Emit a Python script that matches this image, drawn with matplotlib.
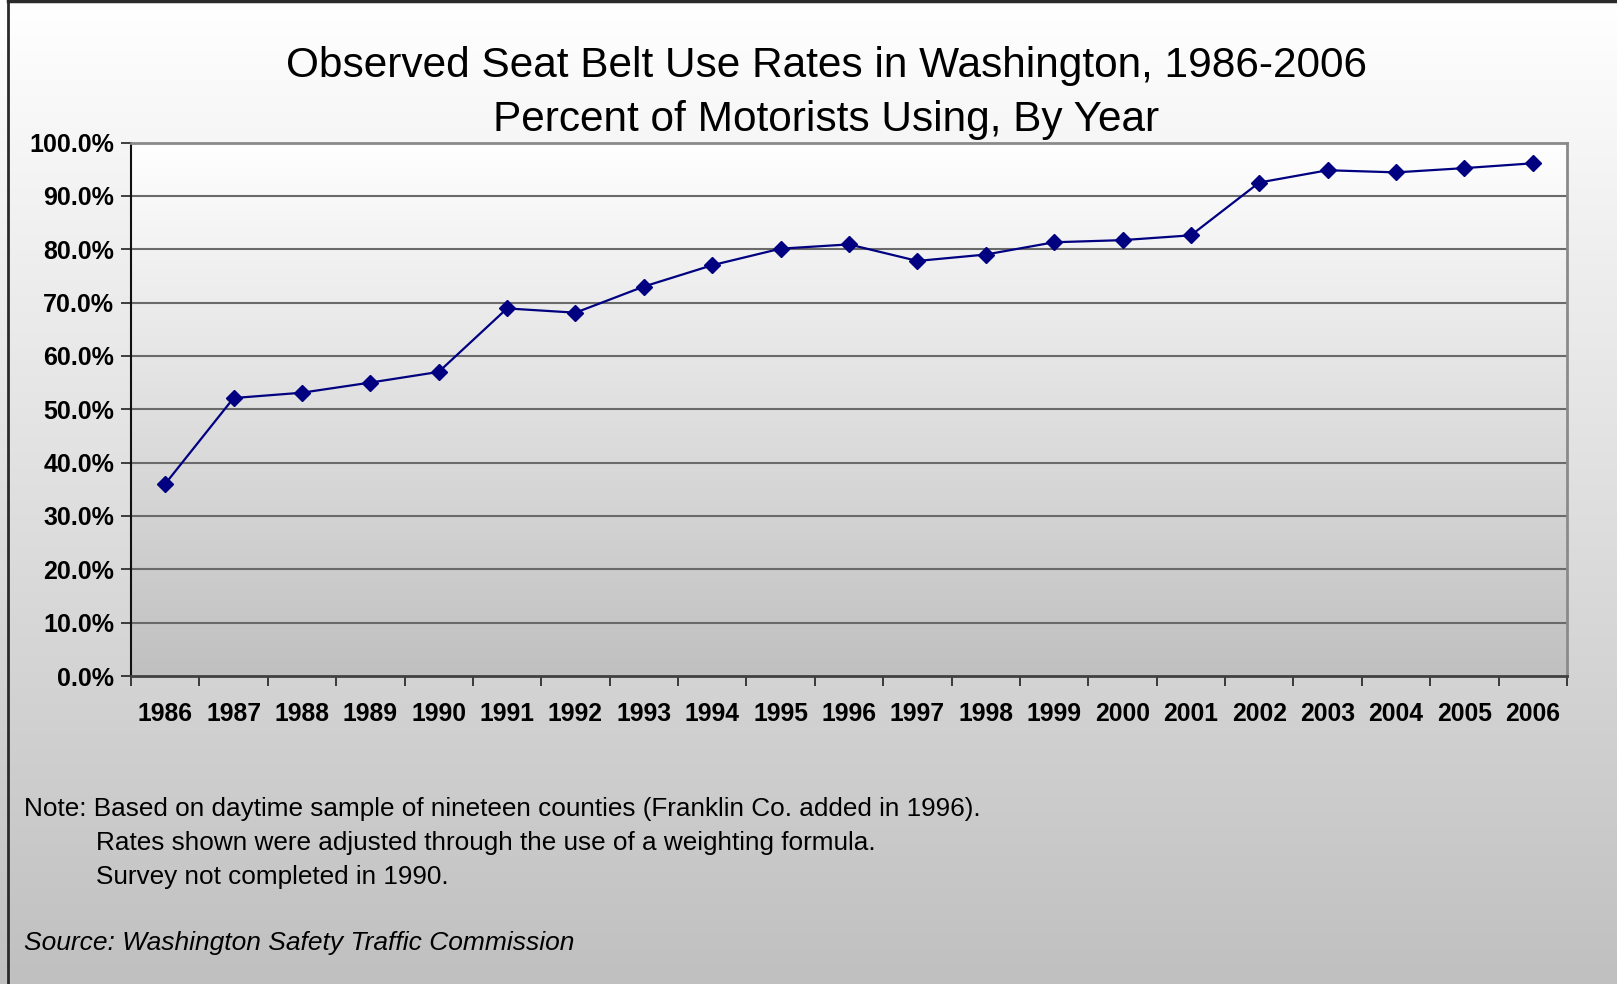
import numpy as np
import matplotlib
matplotlib.use("Agg")
import matplotlib.pyplot as plt
from matplotlib.lines import Line2D
from matplotlib.colors import LinearSegmentedColormap
from matplotlib.ticker import FixedLocator, FixedFormatter

# Seat belt use rates by year (percent of motorists)
years = ["1986", "1987", "1988", "1989", "1990", "1991", "1992", "1993", "1994",
         "1995", "1996", "1997", "1998", "1999", "2000", "2001", "2002", "2003",
         "2004", "2005", "2006"]
rates = [36.0, 52.1, 53.1, 55.0, 57.0, 68.9, 68.1, 73.0, 77.0, 80.1, 80.9,
         77.8, 79.0, 81.3, 81.7, 82.6, 92.5, 94.8, 94.4, 95.2, 96.1]
y_ticks = [0, 10, 20, 30, 40, 50, 60, 70, 80, 90, 100]

title_lines = ["Observed Seat Belt Use Rates in Washington, 1986-2006",
               "Percent of Motorists Using, By Year"]
note_lines = ["Note: Based on daytime sample of nineteen counties (Franklin Co. added in 1996).",
              "Rates shown were adjusted through the use of a weighting formula.",
              "Survey not completed in 1990."]
source_text = "Source: Washington Safety Traffic Commission"

W, H = 1617, 984
fig = plt.figure(figsize=(W / 100, H / 100), dpi=100)
plt.rcParams['font.family'] = ['Liberation Sans', 'DejaVu Sans']

grad = LinearSegmentedColormap.from_list("fade", ["#ffffff", "#c0c0c0"])

# figure background gradient
bg = fig.add_axes([0, 0, 1, 1], zorder=-10)
bg.imshow(np.linspace(0, 1, 256).reshape(-1, 1), cmap=grad, aspect="auto",
          extent=[0, 1, 0, 1], origin="upper")
bg.set_axis_off()

# outer frame (top and left edges)
fig.add_artist(Line2D([7.5 / W, 7.5 / W], [0, 1 - 1 / H], transform=fig.transFigure,
                      color="#2a2a2a", lw=2))
fig.add_artist(Line2D([7.5 / W, 1], [1 - 1 / H, 1 - 1 / H], transform=fig.transFigure,
                      color="#2a2a2a", lw=2.5))

left, right, top, bottom = 131, 1567, 142.5, 676
ax = fig.add_axes([left / W, 1 - bottom / H, (right - left) / W, (bottom - top) / H])
ax.patch.set_alpha(0)
ax.imshow(np.linspace(0, 1, 256).reshape(-1, 1), cmap=grad, aspect="auto",
          extent=[0, 1, 0, 1], origin="upper", transform=ax.transAxes, zorder=0)

x = np.arange(len(years))
ax.plot(x, rates, color="#000080", lw=1.6, marker="D", markersize=8.5,
        markerfacecolor="#000080", markeredgecolor="#000080", zorder=5, clip_on=False)

ax.set_xlim(-0.5, len(years) - 0.5)
ax.set_ylim(0, 100)

# horizontal gridlines
for v in y_ticks[1:-1]:
    ax.axhline(v, color="#6a6a6a", lw=1.5, zorder=2)

ax.yaxis.set_major_locator(FixedLocator(y_ticks))
ax.yaxis.set_major_formatter(FixedFormatter([f"{v:.1f}%" for v in y_ticks]))
ax.xaxis.set_major_locator(FixedLocator(np.arange(len(years) + 1) - 0.5))
ax.xaxis.set_major_formatter(FixedFormatter([""] * (len(years) + 1)))
ax.xaxis.set_minor_locator(FixedLocator(x))
ax.xaxis.set_minor_formatter(FixedFormatter(years))

ax.tick_params(axis="y", which="major", length=7, width=1.2, color="#202020",
               labelsize=18, pad=5)
ax.tick_params(axis="x", which="major", length=7, width=1.2, color="#202020",
               labelsize=1, pad=0, direction="out")
ax.tick_params(axis="x", which="minor", length=0, labelsize=17.8, pad=18.5)
for lab in ax.get_yticklabels() + ax.get_xticklabels(minor=True):
    lab.set_fontweight("bold")

ax.spines["left"].set_color("#101010")
ax.spines["left"].set_linewidth(1.5)
ax.spines["bottom"].set_color("#404040")
ax.spines["bottom"].set_linewidth(2)
ax.spines["top"].set_color("#8a8a8a")
ax.spines["top"].set_linewidth(2)
ax.spines["right"].set_color("#8a8a8a")
ax.spines["right"].set_linewidth(2)
for s in ax.spines.values():
    s.set_zorder(6)

# title
fig.text(826 / W, 1 - 66 / H, title_lines[0], ha="center", va="center",
         fontsize=30.5, color="black")
fig.text(826 / W, 1 - 120 / H, title_lines[1], ha="center", va="center",
         fontsize=30.5, color="black")

# notes and source
fig.text(24 / W, 1 - 809 / H, note_lines[0], ha="left", va="center", fontsize=18.8)
fig.text(96 / W, 1 - 843 / H, note_lines[1], ha="left", va="center", fontsize=18.8)
fig.text(96 / W, 1 - 877 / H, note_lines[2], ha="left", va="center", fontsize=18.8)
fig.text(24 / W, 1 - 943 / H, source_text, ha="left", va="center", fontsize=19,
         style="italic")

fig.savefig("out.png", dpi=100)
